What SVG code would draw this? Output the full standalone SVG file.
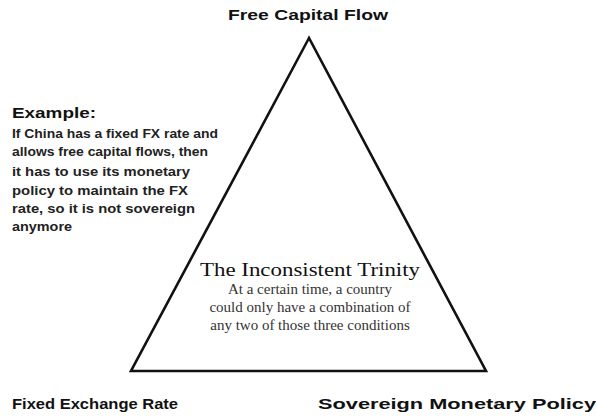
<svg xmlns="http://www.w3.org/2000/svg" width="596" height="419" viewBox="0 0 596 419">
<style>
.lbl{font-family:"Liberation Sans",Arial,sans-serif;font-weight:bold;font-size:15px;fill:#111}
.ex{font-family:"Liberation Sans",Arial,sans-serif;font-weight:bold;font-size:12px;fill:#222}
.tt{font-family:"Liberation Serif","Times New Roman",serif;font-size:19px;fill:#111}
.bd{font-family:"Liberation Serif","Times New Roman",serif;font-size:15px;fill:#333}
</style>
<rect width="596" height="419" fill="#fff"/>
<g id="connectors">
<polygon points="309,38 131,371 486,371" fill="none" stroke="#111" stroke-width="2.6" stroke-linejoin="miter"/>
</g>
<g id="node-top">
<text class="lbl" x="308" y="20" text-anchor="middle" textLength="160" lengthAdjust="spacingAndGlyphs">Free Capital Flow</text>
</g>
<g id="node-left">
<text class="lbl" x="12" y="409" textLength="166" lengthAdjust="spacingAndGlyphs">Fixed Exchange Rate</text>
</g>
<g id="node-right">
<text class="lbl" x="318" y="409" textLength="278" lengthAdjust="spacingAndGlyphs">Sovereign Monetary Policy</text>
</g>
<g id="example">
<text class="lbl" x="12" y="118" textLength="84" lengthAdjust="spacingAndGlyphs">Example:</text>
<text class="ex" x="12" y="138" textLength="206" lengthAdjust="spacingAndGlyphs">If China has a fixed FX rate and</text>
<text class="ex" x="12" y="156" textLength="196" lengthAdjust="spacingAndGlyphs">allows free capital flows, then</text>
<text class="ex" x="12" y="176" textLength="178" lengthAdjust="spacingAndGlyphs">it has to use its monetary</text>
<text class="ex" x="12" y="195" textLength="176" lengthAdjust="spacingAndGlyphs">policy to maintain the FX</text>
<text class="ex" x="12" y="213" textLength="183" lengthAdjust="spacingAndGlyphs">rate, so it is not sovereign</text>
<text class="ex" x="12" y="231" textLength="60" lengthAdjust="spacingAndGlyphs">anymore</text>
</g>
<g id="center">
<text class="tt" x="310" y="276" text-anchor="middle" textLength="220" lengthAdjust="spacingAndGlyphs">The Inconsistent Trinity</text>
<text class="bd" x="310" y="294" text-anchor="middle">At a certain time, a country</text>
<text class="bd" x="310" y="312" text-anchor="middle">could only have a combination of</text>
<text class="bd" x="310" y="330" text-anchor="middle">any two of those three conditions</text>
</g>
</svg>
